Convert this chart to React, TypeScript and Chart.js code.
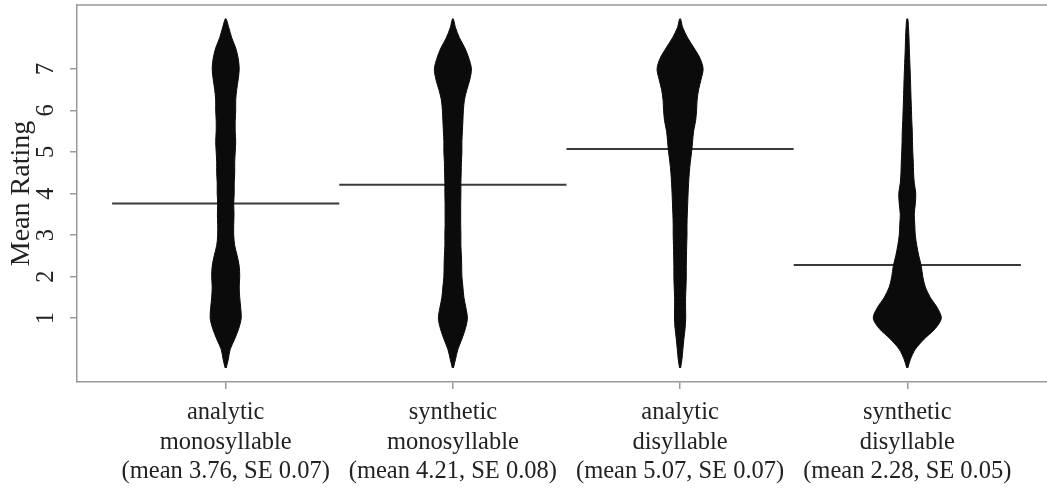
import React, { useEffect, useRef } from 'react';
import { Chart, registerables } from 'chart.js';

Chart.register(...registerables);

// ---- data ----
const CATEGORY_LABELS: string[][] = [
  ['analytic', 'monosyllable', '(mean 3.76, SE 0.07)'],
  ['synthetic', 'monosyllable', '(mean 4.21, SE 0.08)'],
  ['analytic', 'disyllable', '(mean 5.07, SE 0.07)'],
  ['synthetic', 'disyllable', '(mean 2.28, SE 0.05)'],
];
const POSITIONS = [1, 2, 3, 4];
const MEANS = [3.76, 4.21, 5.07, 2.28];
const Y_TICKS = [1, 2, 3, 4, 5, 6, 7];

// rating grid on which the bean densities were read
const RATING_GRID = [
  -0.2, 0, 0.25, 0.5, 0.75, 1, 1.25, 1.5, 1.75, 2, 2.25, 2.5, 2.75, 3, 3.25, 3.5, 3.75,
  4, 4.25, 4.5, 4.75, 5, 5.25, 5.5, 5.75, 6, 6.25, 6.5, 6.75, 7, 7.25, 7.5, 7.75, 8, 8.2,
];
// relative density (half-width) of each bean along RATING_GRID
const DENSITY_ANALYTIC_MONO = [
  0.5, 2.5, 4.5, 9, 13, 15.5, 15, 14, 13.5, 14, 13.5, 11.5, 9, 8, 8, 8.3, 8,
  8.5, 8.5, 9, 9, 9.5, 10, 9.5, 9.5, 10, 10, 11, 12.5, 13.5, 12.5, 10, 6, 3, 0.5,
];
const DENSITY_SYNTHETIC_MONO = [
  0.5, 2.5, 5, 9, 12.5, 14.5, 13, 11, 10, 9, 8.8, 8.5, 8, 8, 7.8, 7.8, 7.8,
  8, 8, 8.3, 8.5, 9, 9, 9.5, 10, 10.5, 11.5, 14, 17, 18.5, 16, 12, 6.5, 2.5, 0.5,
];
const DENSITY_ANALYTIC_DI = [
  0.5, 1.8, 2.8, 3.8, 5, 5.6, 5.5, 5.5, 5.9, 6.2, 6.2, 6.4, 6.6, 6.9, 6.9, 7.2, 7.6,
  8, 8.5, 9.2, 10.2, 11.5, 12.5, 13.5, 15.5, 16.5, 17, 18.5, 21, 23, 20, 14, 7.5, 2.5, 0.5,
];
const DENSITY_SYNTHETIC_DI = [
  0.5, 3, 8, 17, 28, 34, 30, 23, 18, 15.5, 14, 11.5, 9.5, 8, 7.5, 7, 8,
  8.5, 7, 6.3, 6, 5.5, 5.2, 5, 4.5, 4.2, 3.8, 3.5, 3.2, 2.8, 2.4, 2, 1.7, 1.2, 0.5,
];
const DENSITIES = [DENSITY_ANALYTIC_MONO, DENSITY_SYNTHETIC_MONO, DENSITY_ANALYTIC_DI, DENSITY_SYNTHETIC_DI];

// ---- styles ----
const BEAN_SCALE = 1 / 227; // density unit -> category units
const FONT_FAMILY = "'Liberation Serif', 'Times New Roman', serif";
const TEXT_COLOR = '#222222';
const AXIS_COLOR = '#9a9a9a';
const BEAN_COLOR = '#0b0b0b';
const MEAN_COLOR = '#3a3a3a';
const FONT_SIZE = 24.5;
const TITLE_SIZE = 28;

export default function App() {
  const ref = useRef<HTMLCanvasElement>(null);

  useEffect(() => {
    const canvas = ref.current;
    if (!canvas) return;

    const beans = DENSITIES.map((dens, k) => {
      const pos = POSITIONS[k];
      const right = RATING_GRID.map((r, i) => ({ x: pos + dens[i] * BEAN_SCALE, y: r }));
      const left = RATING_GRID.map((r, i) => ({ x: pos - dens[i] * BEAN_SCALE, y: r })).reverse();
      return {
        label: CATEGORY_LABELS[k].join(' '),
        data: [...right, ...left],
        showLine: true,
        fill: 'shape',
        backgroundColor: BEAN_COLOR,
        borderColor: BEAN_COLOR,
        borderWidth: 1,
        pointRadius: 0,
        tension: 0.3,
      };
    });

    const meanLines = MEANS.map((m, k) => ({
      label: 'mean ' + m,
      data: [
        { x: POSITIONS[k] - 0.5, y: m },
        { x: POSITIONS[k] + 0.5, y: m },
      ],
      showLine: true,
      fill: false,
      borderColor: MEAN_COLOR,
      backgroundColor: MEAN_COLOR,
      borderWidth: 2,
      pointRadius: 0,
    }));

    const frameTop = {
      id: 'frameTop',
      afterDraw(chart: any) {
        const { ctx, chartArea } = chart;
        ctx.save();
        ctx.strokeStyle = AXIS_COLOR;
        ctx.lineWidth = 1.5;
        ctx.beginPath();
        ctx.moveTo(chartArea.left, chartArea.top);
        ctx.lineTo(chartArea.right, chartArea.top);
        ctx.stroke();
        ctx.restore();
      },
    };

    const chart = new Chart(canvas, {
      type: 'scatter',
      data: { datasets: [...beans, ...meanLines] as any },
      options: {
        animation: false,
        responsive: false,
        events: [],
        layout: { padding: { top: 5, left: 0, right: 0, bottom: 0 } },
        plugins: { legend: { display: false }, tooltip: { enabled: false } },
        scales: {
          x: {
            type: 'linear',
            min: 0.3455,
            max: 4.615,
            afterBuildTicks: (s: any) => {
              s.ticks = POSITIONS.map((v) => ({ value: v }));
            },
            afterFit: (s: any) => {
              s.height = 111;
              s.paddingLeft = 0;
              s.paddingRight = 0;
            },
            grid: { drawOnChartArea: false, drawTicks: true, tickLength: 7, color: AXIS_COLOR, lineWidth: 1.5 },
            border: { display: true, color: AXIS_COLOR, width: 1.5 },
            ticks: {
              autoSkip: false,
              minRotation: 0,
              maxRotation: 0,
              padding: 9,
              color: TEXT_COLOR,
              font: { family: FONT_FAMILY, size: FONT_SIZE, lineHeight: 1.2 },
              callback: (v: any) => {
                const i = POSITIONS.indexOf(Number(v));
                return i >= 0 ? CATEGORY_LABELS[i] : '';
              },
            },
          },
          y: {
            type: 'linear',
            min: -0.536,
            max: 8.536,
            afterBuildTicks: (s: any) => {
              s.ticks = Y_TICKS.map((v) => ({ value: v }));
            },
            afterFit: (s: any) => {
              s.width = 77;
              s.paddingTop = 0;
              s.paddingBottom = 0;
            },
            grid: { drawOnChartArea: false, drawTicks: true, tickLength: 7, color: AXIS_COLOR, lineWidth: 1.5 },
            border: { display: true, color: AXIS_COLOR, width: 1.5 },
            ticks: {
              minRotation: 90,
              maxRotation: 90,
              crossAlign: 'center',
              padding: 17,
              color: TEXT_COLOR,
              font: { family: FONT_FAMILY, size: FONT_SIZE },
              callback: (v: any) => String(v),
            },
            title: {
              display: true,
              text: 'Mean Rating',
              color: TEXT_COLOR,
              font: { family: FONT_FAMILY, size: TITLE_SIZE },
              padding: { top: 5, bottom: 0 },
            },
          },
        },
      } as any,
      plugins: [frameTop],
    });

    return () => chart.destroy();
  }, []);

  return (
    <div style={{ position: 'fixed', left: 0, top: 0, width: 1047, height: 493, background: '#fff' }}>
      <canvas ref={ref} width={1047} height={493} style={{ display: 'block', width: 1047, height: 493 }} />
    </div>
  );
}
